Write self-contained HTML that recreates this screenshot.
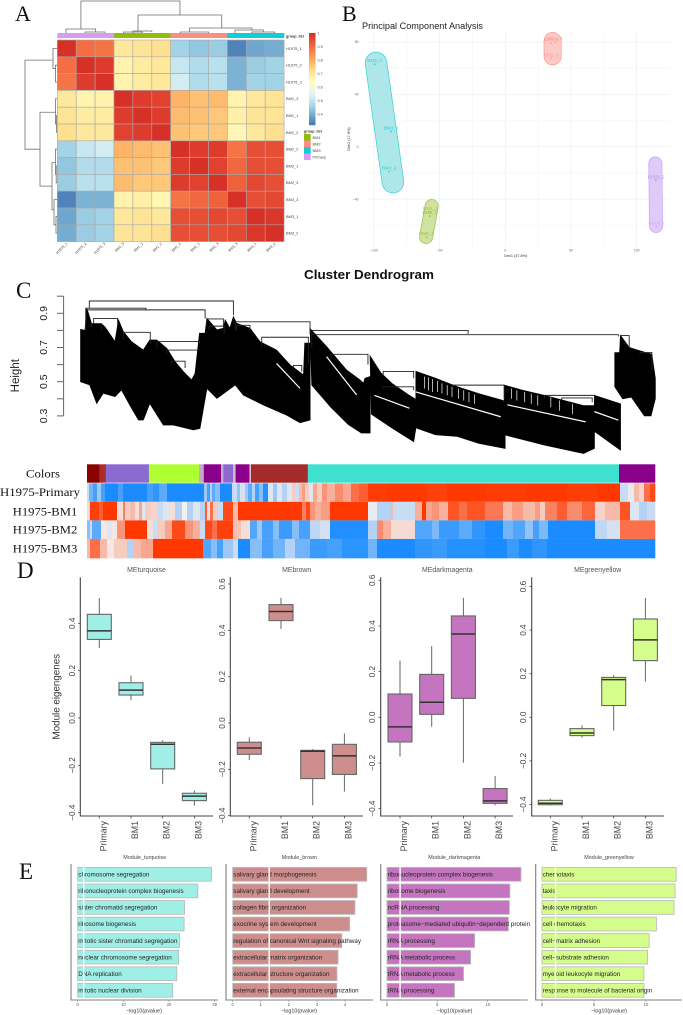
<!DOCTYPE html>
<html lang="en">
<head>
<meta charset="utf-8">
<title>Multi-panel module analysis figure</title>
<style>
html,body{margin:0;padding:0;background:#fff;}
svg{display:block;font-family:"Liberation Sans",sans-serif;filter:blur(.3px);}
.letter{font-family:"Liberation Serif",serif;fill:#111;}
</style>
</head>
<body>
<svg id="fig" xmlns="http://www.w3.org/2000/svg" width="683" height="1015" viewBox="0 0 683 1015">
<defs>
<clipPath id="pcaClip"><rect x="365" y="32" width="306" height="216"/></clipPath>
</defs>
<rect x="0" y="0" width="683" height="1015" fill="#fff"/>
<text class="letter" x="15" y="21" font-size="22">A</text>
<text class="letter" x="342" y="21" font-size="22">B</text>
<text class="letter" x="16" y="298" font-size="23">C</text>
<text class="letter" x="17" y="578" font-size="23">D</text>
<text class="letter" x="19" y="879" font-size="23">E</text>
<g id="panelA"></g>
<g id="panelB">
<text x="362" y="29" font-size="9" fill="#222" textLength="121" lengthAdjust="spacingAndGlyphs">Principal Component Analysis</text>
<text x="515.7" y="257" font-size="3.8" fill="#333" text-anchor="middle">Dim1 (37.8%)</text>
<text transform="translate(350,139) rotate(-90)" font-size="3.8" fill="#333" text-anchor="middle">Dim2 (17.6%)</text>
</g>
<g id="panelC">
<text x="369" y="279" font-size="13" font-weight="bold" fill="#111" text-anchor="middle" textLength="130" lengthAdjust="spacingAndGlyphs">Cluster Dendrogram</text>
<text transform="translate(19,375.7) rotate(-90)" font-size="11.5" fill="#222" text-anchor="middle">Height</text>
<text x="43" y="477.7" font-size="11.5" fill="#111" text-anchor="middle" textLength="34" lengthAdjust="spacingAndGlyphs" style="font-family:'Liberation Serif',serif">Colors</text>
<text x="40" y="496" font-size="11.5" fill="#111" text-anchor="middle" textLength="80" lengthAdjust="spacingAndGlyphs" style="font-family:'Liberation Serif',serif">H1975-Primary</text>
<text x="45" y="515.7" font-size="11.5" fill="#111" text-anchor="middle" textLength="64.5" lengthAdjust="spacingAndGlyphs" style="font-family:'Liberation Serif',serif">H1975-BM1</text>
<text x="45" y="533.7" font-size="11.5" fill="#111" text-anchor="middle" textLength="64.5" lengthAdjust="spacingAndGlyphs" style="font-family:'Liberation Serif',serif">H1975-BM2</text>
<text x="45" y="552.7" font-size="11.5" fill="#111" text-anchor="middle" textLength="64.5" lengthAdjust="spacingAndGlyphs" style="font-family:'Liberation Serif',serif">H1975-BM3</text>
</g>
<g id="panelD">
<text transform="translate(59.5,696.7) rotate(-90)" font-size="9.8" fill="#333" text-anchor="middle">Module eigengenes</text>
</g>
<g id="panelE"></g>

<script>
// ---------- Panel A data ----------
const sampleLabels = ['H1975_1','H1975_2','H1975_3','BM1_3','BM1_1','BM1_2','BM2_2','BM2_1','BM2_3','BM3_3','BM3_1','BM3_2'];
const corrRow0 = [1,.90,.89,.70,.71,.72,.46,.44,.45,.34,.39,.40];
const corrRow1 = [.90,1,.98,.67,.69,.70,.51,.48,.49,.41,.45,.46];
const corrRow2 = [.89,.98,1,.67,.69,.70,.53,.48,.49,.41,.46,.46];
const corrRow3 = [.70,.67,.67,1,.98,.97,.79,.77,.78,.67,.70,.71];
const corrRow4 = [.71,.69,.69,.98,1,.98,.78,.77,.76,.68,.71,.71];
const corrRow5 = [.72,.70,.70,.97,.98,1,.77,.76,.76,.66,.70,.72];
const corrRow6 = [.46,.51,.53,.79,.78,.77,1,.98,.98,.89,.95,.95];
const corrRow7 = [.44,.48,.48,.77,.77,.76,.98,1,.97,.91,.95,.95];
const corrRow8 = [.45,.49,.49,.78,.76,.76,.98,.97,1,.92,.96,.95];
const corrRow9 = [.34,.41,.41,.67,.68,.66,.89,.91,.92,1,.95,.96];
const corrRow10 = [.39,.45,.46,.70,.71,.70,.95,.95,.96,.95,1,.99];
const corrRow11 = [.40,.45,.46,.71,.71,.72,.95,.95,.95,.96,.99,1];
const corrMatrix = [corrRow0,corrRow1,corrRow2,corrRow3,corrRow4,corrRow5,corrRow6,corrRow7,corrRow8,corrRow9,corrRow10,corrRow11];
const groupNames = ['BM1','BM2','BM3','Primary'];
const groupColors = ['#94bb05','#fb8d84','#12cdd3','#d99bf0'];
const colGroups = [3,3,3,0,0,0,1,1,1,2,2,2];
const colorbarTicks = [1,.9,.8,.7,.6,.5,.4];
const colMerges = [[1.25,6.49,32,4,18],[4.27,8.7,18,2,5],[.46,2.03,4,0,1],[1.47,2.52,1,0,0],[4,5,2,0,1],[7,10.3,5,1,3],[6.5,8,1,0,0],[9.4,10.9,3,0,1],[10.3,11.5,1,0,0],[3.5,4.5,1,0,0]];
const rowMerges = [[1.2,6.5,32,4,17],[4.3,8.7,17,1.5,5],[.5,1.7,4,0,1.5],[1.5,2.5,1.5,0,0],[3.5,5,1.5,0,.6],[4.5,5.5,.6,0,0],[7.3,10.1,5,1.5,3],[6.5,8,1.5,0,.8],[7.5,8.5,.8,0,0],[9.5,11,3,0,1],[10.5,11.5,1,0,0]];

// ---------- Panel B data ----------
const pcaGroups = ['BM3','BM1','BM2','H1975'];
const pcaFill = ['#aee7e9','#fbcac6','#cfe2a2','#e0caf8'];
const pcaBorder = ['#33d0d6','#fb9a92','#9ec136','#c9a3f5'];
const pcaHullWidth = [21,16.5,12.5,12.5];
const hullBM3 = [[-98.4,63.9],[-85.5,-27]];
const hullBM1 = [[36,80.7],[36,69]];
const hullBM2 = [[-56,-45.3],[-60.3,-69]];
const hullH1975 = [[114.2,-12.8],[114.7,-60.5]];
const pcaHulls = [hullBM3,hullBM1,hullBM2,hullH1975];
const pointsBM3 = [[-99.5,63],[-87,11.5],[-88.5,-19]];
const pointsBM1 = [[38,80],[35,79],[35,67.5]];
const pointsBM2 = [[-60,-69],[-57.5,-53],[-57,-50]];
const pointsH1975 = [[115,-61],[114.5,-26],[114.5,-25]];
const pcaPoints = [pointsBM3,pointsBM1,pointsBM2,pointsH1975];
const namesBM3 = ['BM3_3','BM3_1','BM3_2'];
const namesBM1 = ['BM1_1','BM1_2','BM1_3'];
const namesBM2 = ['BM2_1','BM2_2','BM2_3'];
const namesH1975 = ['H1975_1','H1975_3','H1975_2'];
const pcaNames = [namesBM3,namesBM1,namesBM2,namesH1975];
const pcaXTicks = [-100,-50,0,50,100];
const pcaYTicks = [80,40,0,-40];

// ---------- Panel C data: dendrogram envelopes as [gene rank, merge height] ----------
const cladeATop = [[0,.806],[10,.80],[14,.93],[18,.90],[25,.84],[48,.838],[56,.82],[79,.734],[87,.861],[98,.793],[117,.734],[144,.685],[159,.744],[175,.744],[198,.695],[217,.617],[236,.559],[255,.51],[263,.549],[273,.783],[286,.783],[290,.871],[313,.803],[328,.812],[332,.861],[343,.812],[351,.88],[358,.842],[389,.812],[412,.734],[450,.685],[481,.598],[512,.539],[515,.725],[527,.725]];
const cladeABot = [[0,.50],[21,.481],[37,.373],[52,.432],[79,.413],[94,.452],[113,.364],[133,.276],[144,.276],[159,.373],[190,.247],[213,.247],[259,.218],[274,.227],[290,.461],[313,.403],[355,.481],[374,.422],[420,.364],[473,.305],[504,.26],[527,.276]];
const cladeBTop = [[527,.81],[565,.705],[611,.568],[642,.51],[650,.49],[653,.52],[665,.53]];
const cladeBBot = [[531,.48],[575,.35],[615,.25],[645,.20],[665,.20]];
const cladeCTop = [[665,.65],[690,.55],[715,.49],[755,.42],[768,.40]];
const cladeCBot = [[668,.31],[715,.23],[765,.15],[770,.23]];
const cladeDTop = [[770,.56],[815,.52],[865,.47],[915,.43],[970,.39],[975,.38]];
const cladeDBot = [[770,.23],[815,.19],[865,.18],[915,.14],[975,.11]];
const cladeETop = [[973,.48],[1015,.45],[1065,.42],[1155,.36],[1180,.36]];
const cladeEBot = [[973,.19],[1065,.13],[1155,.08],[1180,.11]];
const cladeFTop = [[1180,.42],[1240,.37]];
const cladeFBot = [[1180,.21],[1240,.10]];
const cladeGTop = [[1227,.67],[1238,.67],[1240,.77],[1260,.70],[1285,.68],[1312,.66],[1320,.52]];
const cladeGBot = [[1227,.47],[1245,.40],[1265,.41],[1295,.30],[1310,.30],[1320,.40]];
const cladeTops = [cladeATop,cladeBTop,cladeCTop,cladeDTop,cladeETop,cladeFTop,cladeGTop];
const cladeBots = [cladeABot,cladeBBot,cladeCBot,cladeDBot,cladeEBot,cladeFBot,cladeGBot];
const dendroMerges = [[20,351,.972,.93,.89],[12,286,.92,.80,.87],[12,150,.93,.80,.92],[30,85,.87,.84,.83],[25,48,.84,.82,.80],[355,527,.85,.80,.78],[358,389,.83,.80,.80],[531,890,.80,.78,.78],[531,1235,.775,.70,.765],[290,328,.867,.82,.82],[295,330,.825,.80,.78],[98,160,.789,.75,.72],[175,273,.735,.70,.72],[198,273,.685,.66,.68],[209,240,.62,.60,.58],[416,523,.76,.70,.60],[489,508,.595,.58,.56],[575,660,.66,.63,.60],[695,765,.56,.53,.52],[695,765,.47,.46,.45],[855,973,.48,.46,.40],[1065,1180,.42,.40,.40],[1105,1175,.405,.39,.38],[1285,1312,.67,.66,.57],[1240,1260,.77,.76,.70]];
const dendroGaps = [[565,.646,634,.422],[675,.42,755,.345],[770,.44,965,.295],[980,.365,1160,.265],[1180,.325,1235,.275],[450,.607,504,.461]];
const dendroCombs = [[790,.53,.46],[799,.525,.45],[808,.515,.44],[820,.505,.44],[830,.49,.43],[842,.48,.42],[853,.47,.41],[868,.46,.40],[880,.45,.39],[892,.44,.38],[905,.425,.37],[990,.46,.40],[1002,.45,.39],[1020,.44,.38],[1035,.43,.37],[1050,.42,.36],[1080,.41,.35],[1100,.39,.33],[1130,.37,.31]];
const heightTicks = [1,.9,.8,.7,.6,.5,.4,.3];
const heightTickLabels = ['0.9','0.7','0.5','0.3'];
const heightLabelValues = [.9,.7,.5,.3];

// ---------- Panel C data: module colours and expression strips as [end gene bin, value] ----------
const moduleEnds = [12.3,18.8,61.9,112,116.8,134,136.4,146,148.6,162.5,163.8,220.8,532,568];
const moduleColors = ['#8b0000','#ac2c2c','#8b6bd0','#adff2f','#c8a8c8','#8b008b','#b9b2c9','#8c68d0','#c9bdd0','#8b008b','#eee0ee','#a52a2a','#40e0d0','#8b008b'];
const stripPrimary = [[2,-.2],[6,-.6],[10,-.8],[14,-.4],[18,-.8],[31,-1],[36,-.8],[60,-1],[66,-.8],[72,-.9],[80,-.7],[117,-1],[120,-.4],[123,-.8],[125,-.3],[128,-.7],[133,-.5],[145,-1],[150,-.2],[153,-.45],[158,-.15],[161,-.4],[165,-.7],[168,-.3],[172,-.8],[176,-.5],[181,-.95],[186,-.1],[190,-.4],[195,-.1],[200,-.3],[205,-.1],[208,.2],[212,-.2],[215,.3],[218,.45],[222,.2],[226,-.1],[230,.4],[235,.2],[240,.5],[248,.35],[256,.55],[264,.4],[272,.7],[281,.8],[300,.98],[340,1],[360,.95],[400,1],[440,.98],[480,1],[510,.97],[533,1],[541,-.2],[547,-.05],[552,.3],[557,.15],[563,.7],[568,.9]];
const stripBM1 = [[2,.1],[3,.2],[12,.95],[16,.8],[30,1],[36,.1],[38,.6],[43,.2],[48,.3],[52,.1],[55,.4],[58,-.1],[63,.2],[70,.15],[76,-.2],[82,-.1],[88,.1],[95,-.3],[100,0],[106,-.3],[113,-.1],[118,-.3],[120,.8],[123,.1],[126,.7],[131,.2],[136,-.2],[146,.9],[151,.3],[215,1],[219,.6],[223,.9],[228,.5],[234,.35],[243,.45],[281,1],[290,-.05],[304,-.3],[306,.3],[328,-.2],[335,.35],[339,1],[345,.4],[352,.5],[361,.35],[372,.85],[380,.7],[398,.85],[416,.65],[425,.3],[436,.45],[448,.3],[453,.45],[458,.2],[470,.6],[480,.8],[495,.55],[508,.75],[518,.15],[533,.3],[543,.85],[552,-.1],[560,-.3],[568,-.2]];
const stripBM2 = [[3,-.5],[5,-.2],[14,-.7],[20,.05],[25,-.1],[30,.05],[38,.5],[60,1],[66,.1],[70,-.2],[78,.2],[85,.4],[98,.9],[106,.5],[113,.35],[118,-.2],[125,.9],[130,.7],[146,.95],[154,.25],[163,.1],[170,-.75],[175,-.4],[186,-.8],[192,-.5],[205,-.85],[212,-.5],[223,-.8],[233,-.25],[243,-.15],[281,-.97],[290,-.3],[296,.55],[304,.35],[328,.12],[345,-.75],[352,-.55],[372,-.85],[385,-.7],[398,-.9],[416,-1],[426,-.6],[438,-.75],[446,-.45],[452,-.8],[461,-.55],[508,-1],[520,-.25],[533,-.15],[568,.7]];
const stripBM3 = [[3,.3],[13,.7],[20,.3],[27,.05],[31,.2],[40,.2],[46,-.3],[54,.3],[66,.4],[116,1],[124,-.75],[130,-.5],[136,-.8],[146,-.4],[151,-.2],[163,-1],[175,-.5],[186,-.8],[198,-.6],[208,-.3],[223,-.6],[240,-.85],[255,-.8],[281,-.92],[290,-.6],[328,-1],[345,-.9],[360,-.85],[398,-.95],[420,-1],[432,-.85],[445,-1],[460,-.9],[568,-1]];
const stripRows = [stripPrimary,stripBM1,stripBM2,stripBM3];
const stripNames = ['primary','bm1','bm2','bm3'];

// ---------- Panel D data ----------
const boxCategories = ['Primary','BM1','BM2','BM3'];
const boxTitles = ['MEturquoise','MEbrown','MEdarkmagenta','MEgreenyellow'];
const boxFills = ['#a0efe6','#cf8e8e','#c574bf','#d4fd8b'];
const boxTicks = [.6,.4,.2,0,-.2,-.4];
const boxTicksTurquoise = [.4,.2,0,-.2,-.4];
// each box is [whisker low, q1, median, q3, whisker high]
const boxesTurquoise = [[.296,.332,.368,.438,.507],[.075,.097,.118,.149,.179],[-.279,-.215,-.111,-.103,-.094],[-.37,-.349,-.33,-.318,-.307]];
const boxesBrown = [[-.16,-.135,-.108,-.083,-.062],[.406,.442,.481,.511,.54],[-.355,-.24,-.122,-.118,-.112],[-.296,-.222,-.142,-.092,-.045]];
const boxesMagenta = [[-.172,-.108,-.042,.102,.248],[-.041,.013,.066,.188,.312],[-.199,.083,.365,.444,.523],[-.385,-.377,-.366,-.312,-.257]];
const boxesGreenyellow = [[-.405,-.401,-.394,-.381,-.373],[-.093,-.084,-.072,-.052,-.037],[-.061,.054,.173,.183,.193],[.164,.26,.355,.451,.547]];
const boxSeries = [boxesTurquoise,boxesBrown,boxesMagenta,boxesGreenyellow];

// ---------- Panel E data ----------
const enrichTitles = ['Module_turquoise','Module_brown','Module_darkmagenta','Module_greenyellow'];
const termsTurquoise = ['chromosome segregation','ribonucleoprotein complex biogenesis','sister chromatid segregation','ribosome biogenesis','mitotic sister chromatid segregation','nuclear chromosome segregation','DNA replication','mitotic nuclear division'];
const valuesTurquoise = [29.3,26.3,23.4,23.3,22.3,22.1,21.7,20.8];
const termsBrown = ['salivary gland morphogenesis','salivary gland development','collagen fibril organization','exocrine system development','regulation of canonical Wnt signaling pathway','extracellular matrix organization','extracellular structure organization','external encapsulating structure organization'];
const valuesBrown = [4.77,4.43,4.35,4.16,3.88,3.75,3.71,3.7];
const termsMagenta = ['ribonucleoprotein complex biogenesis','ribosome biogenesis','ncRNA processing','proteasome\u2212mediated ubiquitin\u2212dependent protein','rRNA processing','rRNA metabolic process','tRNA metabolic process','tRNA processing'];
const valuesMagenta = [13.3,12.2,12.15,12.05,8.7,8.3,7.6,6.7];
const termsGreen = ['chemotaxis','taxis','leukocyte migration','cell chemotaxis','cell\u2212matrix adhesion','cell\u2212substrate adhesion','myeloid leukocyte migration','response to molecule of bacterial origin'];
const valuesGreen = [12.9,12.8,12.7,11,10.3,10.15,9.8,9.8];
const enrichTerms = [termsTurquoise,termsBrown,termsMagenta,termsGreen];
const enrichValues = [valuesTurquoise,valuesBrown,valuesMagenta,valuesGreen];
const enrichTicks0 = [0,10,20,30];
const enrichTicks1 = [0,1,2,3,4];
const enrichTicks2 = [0,5,10];
const enrichTicks3 = [0,5,10];
const enrichTicks = [enrichTicks0,enrichTicks1,enrichTicks2,enrichTicks3];
const pThreshold = 1.3;

// ---------- helpers ----------
const NS = 'http://www.w3.org/2000/svg';
function mk(tag, parent, attrs, txt) {
  const e = document.createElementNS(NS, tag);
  for (const k in attrs) e.setAttribute(k, attrs[k]);
  if (txt !== undefined) e.textContent = txt;
  parent.appendChild(e);
  return e;
}
function fmt(v) { return (v < 0 ? '\u2212' : '') + Math.abs(v).toFixed(1); }
function hex2rgb(h) { return [parseInt(h.slice(1,3),16),parseInt(h.slice(3,5),16),parseInt(h.slice(5,7),16)]; }
function mix(a, b, t) {
  const A = hex2rgb(a), B = hex2rgb(b);
  return 'rgb(' + [0,1,2].map(i => Math.round(A[i] + (B[i]-A[i])*t)).join(',') + ')';
}

// ---------- Panel A ----------
(function () {
  const p = document.getElementById('panelA');
  const x0 = 57.3, y0 = 40, cw = 18.9, ch = 16.8;
  const stops = [[.32,'#4575b4'],[.40,'#74add1'],[.47,'#abd9e9'],[.55,'#e0f3f8'],[.64,'#ffffbf'],[.72,'#fee090'],[.80,'#fdae61'],[.90,'#f46d43'],[1,'#d73027']];
  function heat(v) {
    for (let i = 1; i < stops.length; i++) {
      if (v <= stops[i][0]) return mix(stops[i-1][1], stops[i][1], (v - stops[i-1][0]) / (stops[i][0] - stops[i-1][0]));
    }
    return stops[stops.length-1][1];
  }
  corrMatrix.forEach((row, r) => row.forEach((v, c) => {
    const cell = mk('rect', p, {x:x0+c*cw, y:y0+r*ch, width:cw, height:ch, fill:heat(v), stroke:'#a8a8a8', 'stroke-width':.6});
    
    
  }));
  colGroups.forEach((g, c) => {
    const a = mk('rect', p, {x:x0+c*cw, y:33, width:cw+.2, height:5, fill:groupColors[g]});
    
    
  });
  const gl = mk('text', p, {x:286, y:37.5, 'font-size':3.7, 'font-weight':'bold', fill:'#333'}, 'group_list');
  
  
  sampleLabels.forEach((s, i) => {
    const t = mk('text', p, {x:286, y:y0+(i+.5)*ch+1.4, 'font-size':3.9, fill:'#444'}, s);
    
    
    const cx = x0+(i+.5)*cw;
    const u = mk('text', p, {transform:'translate('+(cx+1)+',244) rotate(-45)', 'font-size':3.6, fill:'#444', 'text-anchor':'end'}, s);
    
    
  });
  // dendrograms
  const treeCol = '#6f6f6f';
  colMerges.forEach(m => {
    const xa = x0+m[0]*cw, xb = x0+m[1]*cw, yy = 33-m[2];
    const l = mk('path', p, {d:'M'+xa+' '+(33-m[3])+'V'+yy+'H'+xb+'V'+(33-m[4]), fill:'none', stroke:treeCol, 'stroke-width':.8});
    
    
  });
  rowMerges.forEach(m => {
    const ya = y0+m[0]*ch, yb = y0+m[1]*ch, xx = 57-m[2];
    const l = mk('path', p, {d:'M'+(57-m[3])+' '+ya+'H'+xx+'V'+yb+'H'+(57-m[4]), fill:'none', stroke:treeCol, 'stroke-width':.8});
    
    
  });
  // colorbar
  const barY = v => 33 + (1-v)*135;
  for (let v = 1; v > .32; v -= .01) {
    const s = mk('rect', p, {x:309, y:barY(v), width:6.5, height:1.8, fill:heat(v)});
    
    
  }
  colorbarTicks.forEach(v => {
    const t = mk('text', p, {x:317.5, y:barY(v)+1.3, 'font-size':3.7, fill:'#444'}, v === 1 ? '1' : String(v));
    
    
  });
  const lt = mk('text', p, {x:304, y:132.5, 'font-size':3.7, 'font-weight':'bold', fill:'#333'}, 'group_list');
  
  
  groupNames.forEach((g, i) => {
    const s = mk('rect', p, {x:304, y:134+i*6.5, width:6.7, height:6.5, fill:groupColors[i]});
    
    
    const t = mk('text', p, {x:312.5, y:138.8+i*6.5, 'font-size':3.9, fill:'#444'}, g);
    
    
  });
})();

// ---------- Panel B ----------
(function () {
  const p = document.getElementById('panelB');
  const sx = v => 505.3 + v*1.314;
  const sy = v => 146.7 - v*1.31;
  const gridCol = '#ececec', minorCol = '#f5f5f5';
  for (let v = -100; v <= 100; v += 25) {
    const l = mk('line', p, {x1:sx(v), x2:sx(v), y1:32, y2:247, stroke:v%50===0?gridCol:minorCol, 'stroke-width':.6});
    
    
  }
  for (let v = -60; v <= 80; v += 20) {
    const l = mk('line', p, {x1:368, x2:670, y1:sy(v), y2:sy(v), stroke:v%40===0?gridCol:minorCol, 'stroke-width':.6});
    
    
  }
  pcaXTicks.forEach(v => {
    const t = mk('text', p, {x:sx(v), y:251.5, 'font-size':3.4, fill:'#666', 'text-anchor':'middle'}, v < 0 ? '\u2212'+(-v) : String(v));
    
    
  });
  pcaYTicks.forEach(v => {
    const t = mk('text', p, {x:358.5, y:sy(v)+1.2, 'font-size':3.4, fill:'#666', 'text-anchor':'end'}, v < 0 ? '\u2212'+(-v) : String(v));
    
    
  });
  const clip = mk('g', p, {'clip-path':'url(#pcaClip)'});
  
  
  pcaGroups.forEach((g, i) => {
    const pts = pcaHulls[i].map(d => sx(d[0])+','+sy(d[1])).join(' ');
    const o = mk('polyline', clip, {points:pts, fill:'none', stroke:pcaBorder[i], 'stroke-width':pcaHullWidth[i]+1.4, 'stroke-linecap':'round'});
    
    
    const f = mk('polyline', clip, {points:pts, fill:'none', stroke:pcaFill[i], 'stroke-width':pcaHullWidth[i], 'stroke-linecap':'round'});
    
    
    pcaPoints[i].forEach((d, j) => {
      const c = mk('circle', clip, {cx:sx(d[0]), cy:sy(d[1]), r:.9, fill:pcaBorder[i]});
      
      
      const t = mk('text', clip, {x:sx(d[0]), y:sy(d[1])-2, 'font-size':g==='H1975'?3.9:4.6, fill:pcaBorder[i], 'text-anchor':'middle'}, pcaNames[i][j]);
      
      
    });
  });
})();

// ---------- Panel C ----------
(function () {
  const p = document.getElementById('panelC');
  const rx = r => 80.6 + r*0.4354;
  const hy = h => 313.3 + (0.9-h)*171;
  // axis
  const ax = mk('path', p, {d:'M63.6 '+hy(1)+'V'+hy(.3), fill:'none', stroke:'#666', 'stroke-width':1});
  
  
  heightTicks.forEach(h => {
    const t = mk('line', p, {x1:57, x2:63.6, y1:hy(h), y2:hy(h), stroke:'#666', 'stroke-width':1});
    
    
  });
  heightLabelValues.forEach((h, i) => {
    const t = mk('text', p, {transform:'translate(47,'+hy(h)+') rotate(-90)', 'font-size':10.5, fill:'#222', 'text-anchor':'middle'}, heightTickLabels[i]);
    
    
  });
  // clades
  cladeTops.forEach((top, i) => {
    const bot = cladeBots[i].slice().reverse();
    const pts = top.concat(bot).map(d => rx(d[0]).toFixed(1)+','+hy(d[1]).toFixed(1)).join(' ');
    const c = mk('polygon', p, {points:pts, fill:'#000', stroke:'#000', 'stroke-width':.8});
    
    
  });
  dendroGaps.forEach(g => {
    const l = mk('line', p, {x1:rx(g[0]), y1:hy(g[1]), x2:rx(g[2]), y2:hy(g[3]), stroke:'#fff', 'stroke-width':1.2});
    
    
  });
  dendroCombs.forEach(g => {
    const l = mk('line', p, {x1:rx(g[0]), y1:hy(g[1]), x2:rx(g[0]), y2:hy(g[2]), stroke:'#fff', 'stroke-width':.7});
    
    
  });
  dendroMerges.forEach(m => {
    const d = 'M'+rx(m[0])+' '+hy(m[3])+'V'+hy(m[2])+'H'+rx(m[1])+'V'+hy(m[4]);
    const l = mk('path', p, {d:d, fill:'none', stroke:'#222', 'stroke-width':.9});
    
    
  });
  // module colour bar
  const bx = b => 87 + b;
  let start = 0;
  moduleEnds.forEach((e, i) => {
    const r = mk('rect', p, {x:bx(start), y:464.3, width:e-start+.3, height:18.4, fill:moduleColors[i]});
    
    
    start = e;
  });
  // expression strips
  function stripColor(v) { return v < 0 ? mix('#f4f0f0', '#1a8cff', -v) : mix('#f4f0f0', '#ff3800', v); }
  stripRows.forEach((runs, ri) => {
    let s = 0;
    const y = 483.3 + ri*18.55;
    runs.forEach(run => {
      const r = mk('rect', p, {x:bx(s), y:y, width:run[0]-s+.3, height:ri===3?19.4:18.55, fill:stripColor(run[1])});
      
      
      s = run[0];
    });
  });
})();

// ---------- Panel D ----------
(function () {
  const p = document.getElementById('panelD');
  const axesX = [80.3,230.3,380.7,531.7];
  const axesEnd = [213,363,513,664];
  const zeroY = [718,723,717.3,717.3];
  const unitPx = [236.7,231.7,228.3,218];
  const catX0 = [99.3,249.3,400,550.3];
  const catStep = 31.7;
  const titleX = [146.5,296.7,447.3,597.7];
  boxSeries.forEach((series, k) => {
    const y = v => zeroY[k] - v*unitPx[k];
    const axis = mk('path', p, {d:'M'+axesX[k]+' 577.3V816H'+axesEnd[k], fill:'none', stroke:'#444', 'stroke-width':1.1});
    
    
    const ti = mk('text', p, {x:titleX[k], y:572, 'font-size':6.9, fill:'#555', 'text-anchor':'middle'}, boxTitles[k]);
    
    
    (k === 0 ? boxTicksTurquoise : boxTicks).forEach(v => {
      const tk = mk('line', p, {x1:axesX[k]-2.2, x2:axesX[k], y1:y(v), y2:y(v), stroke:'#444', 'stroke-width':.8});
      
      
      const t = mk('text', p, {transform:'translate('+(axesX[k]-5.5)+','+y(v)+') rotate(-90)', 'font-size':8.2, fill:'#444', 'text-anchor':'middle'}, fmt(v));
      
      
    });
    series.forEach((b, i) => {
      const cx = catX0[k] + i*catStep;
      const tk = mk('line', p, {x1:cx, x2:cx, y1:816, y2:818.5, stroke:'#444', 'stroke-width':.8});
      
      
      const lab = mk('text', p, {transform:'translate('+(cx+7)+',821) rotate(-90)', 'font-size':8.8, fill:'#444', 'text-anchor':'end'}, boxCategories[i]);
      
      
      const wh = mk('line', p, {x1:cx, x2:cx, y1:y(b[0]), y2:y(b[4]), stroke:'#666', 'stroke-width':1});
      
      
      const bx = mk('rect', p, {x:cx-12, y:y(b[3]), width:24, height:y(b[1])-y(b[3]), fill:boxFills[k], stroke:'#666', 'stroke-width':1.1});
      
      
      const md = mk('line', p, {x1:cx-12, x2:cx+12, y1:y(b[2]), y2:y(b[2]), stroke:'#333', 'stroke-width':1.5});
      
      
    });
  });
})();

// ---------- Panel E ----------
(function () {
  const p = document.getElementById('panelE');
  const axesX = [71,226,380.7,535.7];
  const axesEnd = [217.7,373,527.7,681.7];
  const zeroX = [77.7,232.7,387,542];
  const unit = [4.567,28.1,10.07,10.4];
  const titleX = [144.7,299.3,454.3,609];
  const labelX = [144,299,454.5,609];
  const rowY = i => 855 + (58 + i*49.7)/3;
  const fills = boxFills;
  enrichValues.forEach((vals, k) => {
    const sx = v => zeroX[k] + v*unit[k];
    const ti = mk('text', p, {x:titleX[k], y:859, 'font-size':5.4, fill:'#444', 'text-anchor':'middle'}, enrichTitles[k]);
    
    
    const axis = mk('path', p, {d:'M'+axesX[k]+' 864V1000H'+axesEnd[k], fill:'none', stroke:'#808080', 'stroke-width':1.1});
    
    
    vals.forEach((v, i) => {
      const r = mk('rect', p, {x:sx(0), y:rowY(i)-6.9, width:sx(v)-sx(0), height:13.8, fill:fills[k], stroke:'#b8b8b8', 'stroke-width':.8});
      
      
      const t = mk('text', p, {x:sx(0)+.6, y:rowY(i)+2.2, 'font-size':6.3, fill:'#222'}, enrichTerms[k][i]);
      
      
    });
    vals.forEach((v, i) => {
      const w = mk('line', p, {x1:sx(pThreshold), x2:sx(pThreshold), y1:rowY(i)-7.3, y2:rowY(i)+7.3, stroke:'#fff', 'stroke-width':1.4});
      
      
    });
    enrichTicks[k].forEach(v => {
      const tk = mk('line', p, {x1:sx(v), x2:sx(v), y1:1000, y2:1002, stroke:'#888', 'stroke-width':.6});
      
      
      const t = mk('text', p, {x:sx(v), y:1006.2, 'font-size':4.2, fill:'#555', 'text-anchor':'middle'}, String(v));
      
      
    });
    const xl = mk('text', p, {x:labelX[k], y:1012.4, 'font-size':5.4, fill:'#333', 'text-anchor':'middle'}, '\u2212log10(pvalue)');
    
    
  });
})();
</script>
</svg>
</body>
</html>
